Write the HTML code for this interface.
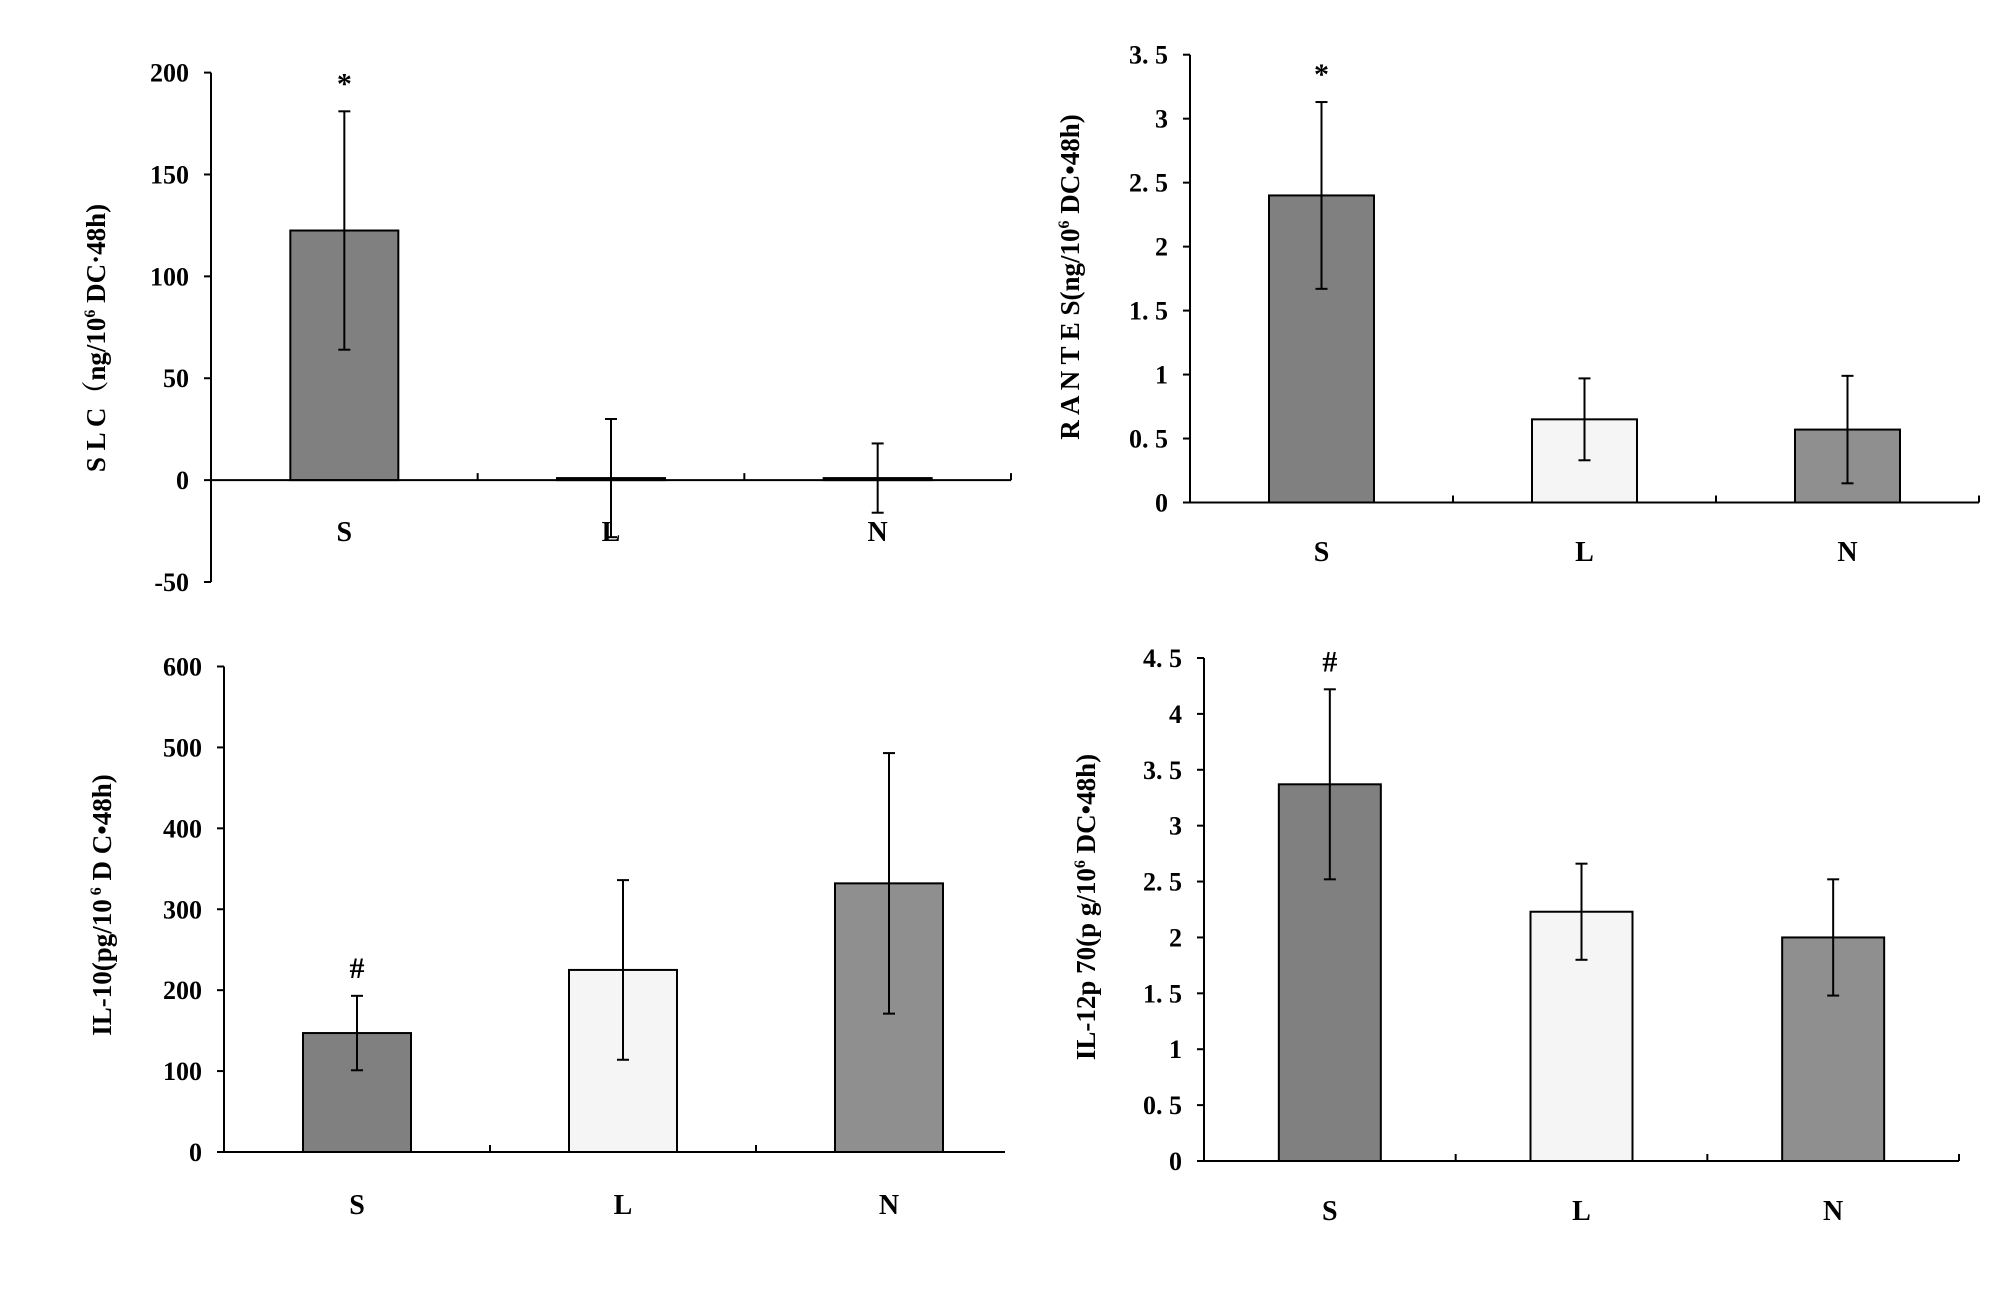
<!DOCTYPE html>
<html><head><meta charset="utf-8"><style>
html,body{margin:0;padding:0;background:#fff;}
svg{display:block;font-family:"Liberation Serif","Noto Serif CJK SC",serif;font-weight:bold;}
</style></head><body>
<svg id="fig" width="2008" height="1301" viewBox="0 0 2008 1301" xmlns="http://www.w3.org/2000/svg"></svg>
<script>
// Shared categories
const categories = ["S", "L", "N"];
const fills = ["#808080", "#f5f5f5", "#8f8f8f"];

// Panel A: SLC
const slcValues = [122.5, 1, 1];
const slcErrors = [58.5, 29, 17];
const slcTicks = [-50, 0, 50, 100, 150, 200];
const slcTickLabels = ["-50", "0", "50", "100", "150", "200"];
const slcMarks = ["*", "", ""];

// Panel B: RANTES
const rantesValues = [2.4, 0.65, 0.57];
const rantesErrors = [0.73, 0.32, 0.42];
const rantesTicks = [0, 0.5, 1, 1.5, 2, 2.5, 3, 3.5];
const rantesTickLabels = ["0", "0. 5", "1", "1. 5", "2", "2. 5", "3", "3. 5"];
const rantesMarks = ["*", "", ""];

// Panel C: IL-10
const il10Values = [147, 225, 332];
const il10Errors = [46, 111, 161];
const il10Ticks = [0, 100, 200, 300, 400, 500, 600];
const il10TickLabels = ["0", "100", "200", "300", "400", "500", "600"];
const il10Marks = ["#", "", ""];

// Panel D: IL-12p70
const il12Values = [3.37, 2.23, 2.0];
const il12Errors = [0.85, 0.43, 0.52];
const il12Ticks = [0, 0.5, 1, 1.5, 2, 2.5, 3, 3.5, 4, 4.5];
const il12TickLabels = ["0", "0. 5", "1", "1. 5", "2", "2. 5", "3", "3. 5", "4", "4. 5"];
const il12Marks = ["#", "", ""];

const svg = document.getElementById('fig');
const NS = "http://www.w3.org/2000/svg";
function mk(tag, attrs, parent){
  const e = document.createElementNS(NS, tag);
  for (const k in attrs) e.setAttribute(k, attrs[k]);
  parent.appendChild(e);
  return e;
}

function panel(key, cfg, values, errors, ticks, tickLabels, marks){
  const g = mk('g', {}, svg);
  
  
  const yScale = v => cfg.y0 + (v - cfg.vmin) / (cfg.vmax - cfg.vmin) * (cfg.y1 - cfg.y0);
  const zeroY = yScale(0);
  const catW = cfg.catW || (cfg.xEnd - cfg.xAxis) / categories.length;
  const xCenter = i => cfg.xAxis + catW * (i + 0.5);
  const ya = mk('line', {x1: cfg.xAxis, y1: yScale(cfg.vmin), x2: cfg.xAxis, y2: yScale(cfg.vmax), stroke: '#000', 'stroke-width': 2}, g);
  
  
  ticks.forEach((t, i) => {
    const y = yScale(t);
    mk('line', {x1: cfg.xAxis - 7, y1: y, x2: cfg.xAxis, y2: y, stroke: '#000', 'stroke-width': 2}, g);
    const tx = mk('text', {x: cfg.xAxis - 22, y: y + 9, 'text-anchor': 'end', 'font-size': 26}, g);
    tx.textContent = tickLabels[i];
    
    
  });
  values.forEach((v, i) => {
    const cx = xCenter(i);
    const top = Math.min(yScale(v), zeroY), bot = Math.max(yScale(v), zeroY);
    const r = mk('rect', {x: cx - cfg.barW / 2, y: top, width: cfg.barW, height: Math.max(bot - top, 1.5), fill: fills[i], stroke: '#000', 'stroke-width': 2}, g);
    
    
    const hi = yScale(v + errors[i]), lo = yScale(v - errors[i]);
    const eg = mk('g', {stroke: '#000', 'stroke-width': 2}, g);
    
    
    mk('line', {x1: cx, y1: hi, x2: cx, y2: lo}, eg);
    mk('line', {x1: cx - 6, y1: hi, x2: cx + 6, y2: hi}, eg);
    mk('line', {x1: cx - 6, y1: lo, x2: cx + 6, y2: lo}, eg);
    if (marks[i]) {
      const m = mk('text', {x: cx, y: hi - 18, 'text-anchor': 'middle', 'font-size': 30}, g);
      m.textContent = marks[i];
      
      
    }
    const cl = mk('text', {x: cx, y: cfg.catY, 'text-anchor': 'middle', 'font-size': 28}, g);
    cl.textContent = categories[i];
    
    
  });
  const xa = mk('line', {x1: cfg.xAxis, y1: zeroY, x2: cfg.xEnd, y2: zeroY, stroke: '#000', 'stroke-width': 2}, g);
  
  
  for (let i = 1; i <= categories.length; i++) {
    const x = cfg.xAxis + catW * i;
    if (x > cfg.xEnd + 1) continue;
    mk('line', {x1: x, y1: zeroY - 7, x2: x, y2: zeroY, stroke: '#000', 'stroke-width': 2}, g);
  }
  const t = mk('text', {x: 0, y: 0, 'text-anchor': 'middle', 'font-size': 27, transform: `translate(${cfg.titleX},${cfg.titleY}) rotate(-90)`}, g);
  
  
  t.innerHTML = cfg.title;
}

panel('slc', {xAxis: 211, xEnd: 1011, y0: 582, y1: 72.6, vmin: -50, vmax: 200, barW: 108, catY: 541, titleX: 105, titleY: 338,
  title: 'S L C（ng/10<tspan dy="-10" font-size="16">6</tspan><tspan dy="10"> DC·48h)</tspan>'},
  slcValues, slcErrors, slcTicks, slcTickLabels, slcMarks);
panel('rantes', {xAxis: 1190, xEnd: 1979, y0: 502.5, y1: 54.7, vmin: 0, vmax: 3.5, barW: 105, catY: 561, titleX: 1079, titleY: 277,
  title: 'R A N T E S(ng/10<tspan dy="-10" font-size="16">6</tspan><tspan dy="10"> DC•48h)</tspan>'},
  rantesValues, rantesErrors, rantesTicks, rantesTickLabels, rantesMarks);
panel('il10', {xAxis: 224, xEnd: 1005, catW: 266, y0: 1152, y1: 666.5, vmin: 0, vmax: 600, barW: 108, catY: 1214, titleX: 111, titleY: 905,
  title: 'IL-10(pg/10<tspan dy="-10" font-size="16"> 6</tspan><tspan dy="10"> D C•48h)</tspan>'},
  il10Values, il10Errors, il10Ticks, il10TickLabels, il10Marks);
panel('il12', {xAxis: 1204, xEnd: 1959, y0: 1161, y1: 658, vmin: 0, vmax: 4.5, barW: 102, catY: 1220, titleX: 1095, titleY: 907,
  title: 'IL-12p 70(p g/10<tspan dy="-10" font-size="16">6</tspan><tspan dy="10"> DC•48h)</tspan>'},
  il12Values, il12Errors, il12Ticks, il12TickLabels, il12Marks);
</script>
</body></html>
